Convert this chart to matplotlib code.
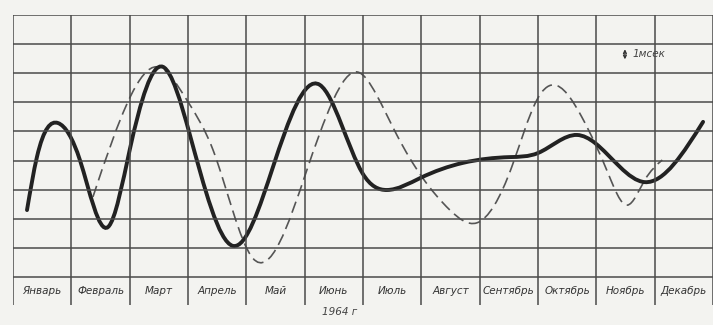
import numpy as np
import matplotlib.pyplot as plt
from matplotlib.path import Path
from matplotlib.patches import PathPatch

# months of 1964 (one grid column each)
months = ["Январь", "Февраль", "Март", "Апрель", "Май", "Июнь",
          "Июль", "Август", "Сентябрь", "Октябрь", "Ноябрь", "Декабрь"]

# solid curve (x in months, y in grid units)
solid_x = [0.24, 0.41, 0.77, 1.15, 1.63, 2.00, 2.57, 3.03, 3.77, 4.46, 5.26,
           5.99, 6.41, 6.98, 7.71, 8.52, 9.00, 9.67, 9.98, 10.83, 11.83]
solid_y = [2.30, 4.12, 5.29, 4.00, 1.72, 4.36, 7.22, 4.90, 1.07, 3.80, 6.60,
           3.57, 2.99, 3.40, 3.92, 4.12, 4.26, 4.88, 4.60, 3.26, 5.33]

# dashed curve
dash_x = [1.37, 2.01, 2.47, 2.98, 3.43, 4.11, 5.02, 5.49, 5.91, 6.22, 6.58,
          7.01, 7.49, 7.95, 8.55, 8.98, 9.26, 9.75, 10.20, 10.53, 10.83, 11.13]
dash_y = [2.75, 6.19, 7.22, 6.08, 4.36, 0.65, 3.57, 6.08, 7.04, 6.30, 4.88,
          3.44, 2.30, 1.86, 3.78, 6.08, 6.60, 5.50, 3.57, 2.47, 3.33, 4.02]


def smooth_path(xs, ys):
    # natural cubic spline through the points, written as bezier segments
    x = np.asarray(xs, float)
    y = np.asarray(ys, float)
    n = len(x)
    h = np.diff(x)
    A = np.zeros((n, n))
    r = np.zeros(n)
    A[0, 0] = A[-1, -1] = 1
    for i in range(1, n - 1):
        A[i, i - 1] = h[i - 1]
        A[i, i] = 2 * (h[i - 1] + h[i])
        A[i, i + 1] = h[i]
        r[i] = 6 * ((y[i + 1] - y[i]) / h[i] - (y[i] - y[i - 1]) / h[i - 1])
    M = np.linalg.solve(A, r)
    m = np.zeros(n)
    m[:-1] = (y[1:] - y[:-1]) / h - h * (2 * M[:-1] + M[1:]) / 6
    m[-1] = (y[-1] - y[-2]) / h[-1] + h[-1] * (M[-2] + 2 * M[-1]) / 6
    verts = [(x[0], y[0])]
    codes = [Path.MOVETO]
    for i in range(n - 1):
        verts += [(x[i] + h[i] / 3, y[i] + m[i] * h[i] / 3),
                  (x[i + 1] - h[i] / 3, y[i + 1] - m[i + 1] * h[i] / 3),
                  (x[i + 1], y[i + 1])]
        codes += [Path.CURVE4] * 3
    return Path(verts, codes)


bg = "#f3f3f0"
fig = plt.figure(figsize=(7.13, 3.25), dpi=100, facecolor=bg)
ax = fig.add_axes([13 / 713, 1 - 305 / 325, 700 / 713, 290 / 325])
ax.set_facecolor(bg)
ax.set_xlim(0, 12)
ax.set_ylim(-0.96, 9)
for s in ax.spines.values():
    s.set_visible(False)
ax.set_xticks([])
ax.set_yticks([])

grid_col = "#4a4a4a"
for y in range(10):
    ax.axhline(y, color=grid_col, lw=1.1)
for x in range(13):
    ax.axvline(x, color=grid_col, lw=1.1)

for i, m in enumerate(months):
    ax.text(i + 0.5, -0.48, m, ha="center", va="center", fontsize=7.5,
            style="italic", color="#333333")

ax.add_patch(PathPatch(smooth_path(dash_x, dash_y), fill=False,
                       ec="#555555", lw=1.2, linestyle=(0, (7, 3.5))))
ax.add_patch(PathPatch(smooth_path(solid_x, solid_y), fill=False,
                       ec="#222222", lw=2.8, capstyle="round"))

# scale mark
ax.annotate("", xy=(10.49, 7.92), xytext=(10.49, 7.38),
            arrowprops=dict(arrowstyle="<->", color="#333333", lw=1,
                            mutation_scale=5))
ax.text(10.62, 7.65, "1мсек", ha="left", va="center", fontsize=7.5,
        style="italic", color="#444444")

fig.text(340 / 713, 1 - 312 / 325, "1964 г", ha="center", va="center",
         fontsize=7.5, style="italic", color="#444444")

fig.savefig("out.png", dpi=100, facecolor=bg)
